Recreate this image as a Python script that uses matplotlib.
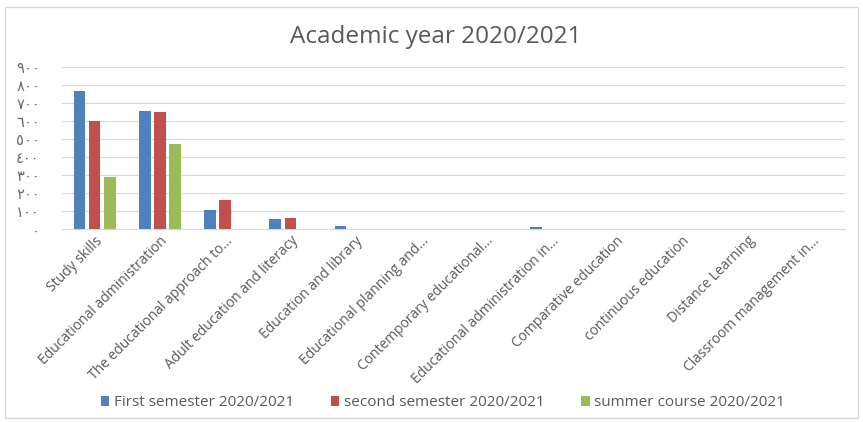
import matplotlib
matplotlib.use("Agg")
import matplotlib.pyplot as plt
import numpy as np
from matplotlib.patches import Rectangle

categories = ["Study skills", "Educational administration", "The educational approach to...",
              "Adult education and literacy", "Education and library", "Educational planning and...",
              "Contemporary educational...", "Educational administration in...", "Comparative education",
              "continuous education", "Distance Learning", "Classroom management in..."]
first = [768, 655, 107, 59, 18, 0, 0, 13, 0, 0, 0, 0]
second = [601, 652, 165, 64, 0, 0, 0, 0, 0, 0, 0, 0]
summer = [289, 474, 0, 0, 0, 0, 0, 0, 0, 0, 0, 0]
series_names = ["First semester 2020/2021", "second semester 2020/2021", "summer course 2020/2021"]
yticks = [0, 100, 200, 300, 400, 500, 600, 700, 800, 900]
ytick_labels = ["٠", "١٠٠", "٢٠٠", "٣٠٠", "٤٠٠", "٥٠٠", "٦٠٠", "٧٠٠", "٨٠٠", "٩٠٠"]
colors = ["#4F81BD", "#C0504D", "#9BBB59"]

plt.rcParams['font.family'] = ['Open Sans', 'DejaVu Sans']
fig = plt.figure(figsize=(8.63, 4.22), dpi=100)
ax = fig.add_axes([62/863, 1-229.3/422, 783/863, 162/422])

x = np.arange(len(categories))
w = 0.18
off = 0.23
for i, (vals, name) in enumerate(zip([first, second, summer], series_names)):
    ax.bar(x + (i-1)*off, vals, width=w, color=colors[i], label=name, zorder=3)

ax.set_xlim(-0.5, len(categories)-0.5)
ax.set_ylim(0, 900)
ax.set_yticks(yticks)
ax.set_yticklabels(ytick_labels, family=['DejaVu Sans'], fontsize=10.5, color='#6b6b6b')
ax.yaxis.grid(True, color='#D9D9D9', linewidth=0.8, zorder=0)
ax.tick_params(axis='y', length=0, pad=16)
ax.tick_params(axis='x', length=0, pad=3)
ax.set_xticks(x)
ax.set_xticklabels(categories, rotation=45, ha='right', rotation_mode='anchor',
                   fontsize=10, color='#595959')
for s in ['top', 'right', 'left']:
    ax.spines[s].set_visible(False)
ax.spines['bottom'].set_color('#D9D9D9')

fig.text(436/863, 1-37/422, "Academic year 2020/2021", ha='center', va='center',
         fontsize=17.5, color='#595959')

leg = fig.legend(loc='center', bbox_to_anchor=(443/863, 1-403/422), ncol=3, frameon=False,
                 fontsize=11, handlelength=0.55, handleheight=0.55, columnspacing=2.4,
                 handletextpad=0.3, labelcolor='#595959')

fig.patches.append(Rectangle((5/863, 4/422), 853/863, 411/422, transform=fig.transFigure,
                             fill=False, edgecolor='#D9D9D9', linewidth=1))
fig.savefig("out.png", dpi=100)
